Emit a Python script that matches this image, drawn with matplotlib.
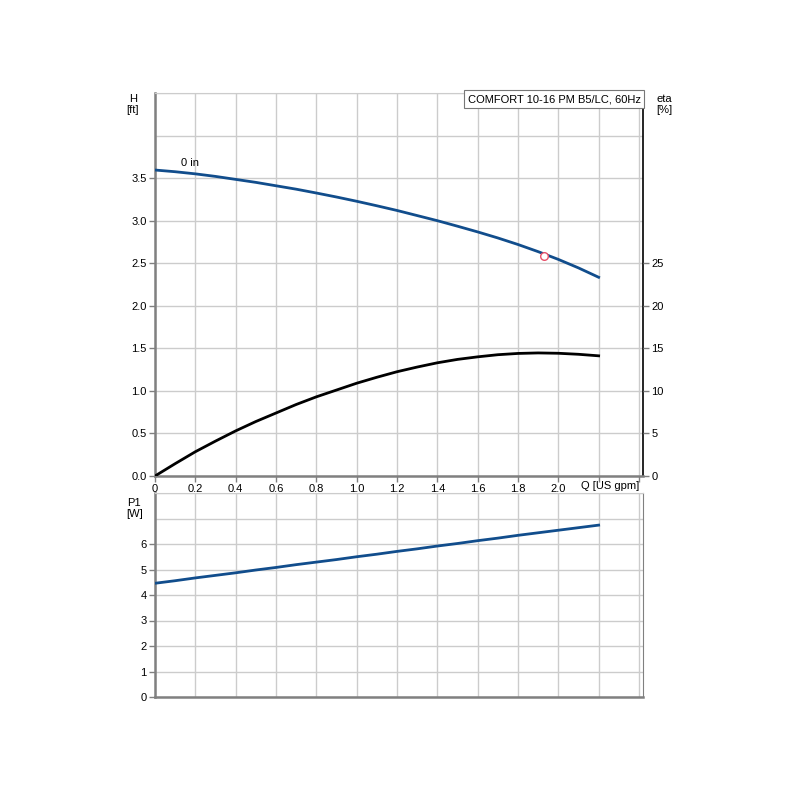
import matplotlib
matplotlib.use('Agg')
import matplotlib.pyplot as plt
import numpy as np

# flow Q [US gpm]
q = [0.0, 0.1, 0.2, 0.3, 0.4, 0.5, 0.6, 0.7, 0.8, 0.9, 1.0, 1.1,
     1.2, 1.3, 1.4, 1.5, 1.6, 1.7, 1.8, 1.9, 2.0, 2.1, 2.2]
# head H [ft]
head = [3.595, 3.575, 3.55, 3.52, 3.485, 3.45, 3.41, 3.37, 3.325, 3.278, 3.228, 3.175,
        3.12, 3.06, 3.00, 2.935, 2.868, 2.797, 2.72, 2.636, 2.545, 2.445, 2.335]
# efficiency eta [%]
eta = [0.0, 1.45, 2.85, 4.1, 5.3, 6.4, 7.4, 8.4, 9.3, 10.1, 10.9, 11.6,
       12.25, 12.8, 13.3, 13.7, 14.0, 14.25, 14.4, 14.46, 14.42, 14.3, 14.12]
# power P1 [W]
p1 = [4.46, 4.56, 4.67, 4.77, 4.87, 4.98, 5.08, 5.19, 5.29, 5.39, 5.5, 5.6,
      5.71, 5.81, 5.92, 6.02, 6.13, 6.23, 6.34, 6.44, 6.54, 6.64, 6.74]

duty_q = [1.93]
duty_h = [2.59]

title = 'COMFORT 10-16 PM B5/LC, 60Hz'
x_ticks = [0.0, 0.2, 0.4, 0.6, 0.8, 1.0, 1.2, 1.4, 1.6, 1.8, 2.0, 2.2, 2.4]
x_labels = ['0', '0.2', '0.4', '0.6', '0.8', '1.0', '1.2', '1.4', '1.6', '1.8', '2.0', '', '']

blue = '#114d8c'
grid_c = '#cccccc'
spine_c = '#808080'
fs = 8

plt.rcParams['font.family'] = ['Liberation Sans', 'DejaVu Sans']

fig = plt.figure(figsize=(8, 8), dpi=100)
ax = fig.add_axes([0.19375, 0.405, 0.61, 0.47875])
ax2 = fig.add_axes([0.19375, 0.12875, 0.61, 0.255])


def style(a):
  a.set_xlim(0, 2.42)
  a.set_xticks(x_ticks)
  a.grid(True, which='both', color=grid_c, linewidth=1)
  a.set_axisbelow(True)
  for s in ['left', 'bottom']:
    a.spines[s].set_color(spine_c)
    a.spines[s].set_linewidth(1.8)
  a.spines['top'].set_color(grid_c)
  a.spines['right'].set_color(spine_c)
  a.tick_params(axis='both', which='major', labelsize=fs, length=4, width=1, color=spine_c, pad=2)
  a.tick_params(axis='both', which='minor', length=0)


# top panel: head + efficiency
style(ax)
ax.set_ylim(0, 4.5)
ax.set_yticks(np.arange(0, 3.51, 0.5))
ax.set_yticks([4.0, 4.5], minor=True)
ax.set_yticklabels([f'{v:.1f}' for v in np.arange(0, 3.51, 0.5)])
ax.set_xticklabels(x_labels)
ax.spines['right'].set_color('black')
ax.spines['right'].set_linewidth(1.2)

ax.plot(q, head, color=blue, linewidth=2, zorder=3)
ax.plot(duty_q, duty_h, 'o', markersize=5.5, markerfacecolor='white',
        markeredgecolor='#e8506a', markeredgewidth=1, zorder=4)
ax.text(0.13, 3.62, '0 in', fontsize=fs, ha='left', va='bottom')

ax.text(0.995, 0.997, title, transform=ax.transAxes, fontsize=fs, ha='right', va='top',
        bbox=dict(boxstyle='square,pad=0.35', facecolor='white', edgecolor='#777777', linewidth=0.8),
        zorder=5)

ax.text(2.4, -0.027, 'Q [US gpm]', transform=ax.get_xaxis_transform(), fontsize=fs,
        ha='right', va='center')

axe = ax.twinx()
axe.set_ylim(0, 45)
axe.set_yticks(np.arange(0, 26, 5))
axe.tick_params(axis='y', labelsize=fs, length=4, width=1, color=spine_c, pad=2)
for s in axe.spines.values():
  s.set_visible(False)
axe.plot(q, eta, color='black', linewidth=2, zorder=3)

fig.text(0.166, 0.856, 'H\n[ft]', fontsize=fs, ha='center', va='bottom', linespacing=1.2)
fig.text(0.831, 0.856, 'eta\n[%]', fontsize=fs, ha='center', va='bottom', linespacing=1.2)

# bottom panel: power
style(ax2)
ax2.set_ylim(0, 8)
ax2.set_yticks(np.arange(0, 7, 1))
ax2.set_yticks([7, 8], minor=True)
ax2.tick_params(axis='x', which='major', length=0, labelbottom=False)
ax2.plot(q, p1, color=blue, linewidth=2, zorder=3)

fig.text(0.168, 0.351, 'P1\n[W]', fontsize=fs, ha='center', va='bottom', linespacing=1.2)

fig.savefig('out.png', dpi=100)
